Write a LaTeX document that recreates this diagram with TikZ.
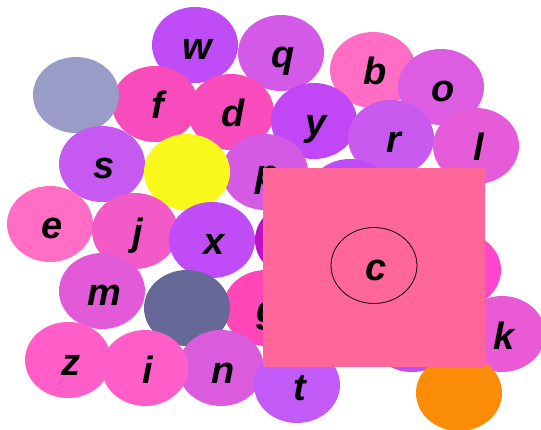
\documentclass[tikz,border=0pt]{standalone}
\usepackage{fontspec}
\setmainfont{Liberation Sans}
\usetikzlibrary{shapes.geometric}
\tikzset{
  blob/.style={ellipse, minimum width=86pt, minimum height=76pt, inner sep=0pt, draw=none},
  lbl/.style={font=\fontsize{38}{40}\selectfont\bfseries\itshape, anchor=base, inner sep=0pt, yshift=-15pt, xshift=2.5pt},
}
\newcommand{\blobat}[4]{%
  \node[blob, fill=#4] (#1) at (#2,#3) {};
}
\newcommand{\blobtxt}[5]{%
  \node[blob, fill=#4] (#1) at (#2,#3) {};
  \node[lbl] (#1t) at (#2,#3) {#5};
}
\definecolor{cw}{HTML}{C04CF8}
\definecolor{cq}{HTML}{D25AE6}
\definecolor{cb}{HTML}{FF6EC4}
\definecolor{co}{HTML}{DC5CE2}
\definecolor{cy}{HTML}{C046F6}
\definecolor{cr}{HTML}{C85AF0}
\definecolor{cl}{HTML}{E65CD8}
\definecolor{cgray}{HTML}{9A9CC8}
\definecolor{cf}{HTML}{F84CBC}
\definecolor{cs}{HTML}{C65AF0}
\definecolor{cyel}{HTML}{F8F81C}
\definecolor{cp}{HTML}{D45AE4}
\definecolor{ce}{HTML}{FF6EC4}
\definecolor{cj}{HTML}{F25AC8}
\definecolor{cmag}{HTML}{C010C8}
\definecolor{cm}{HTML}{E25AD8}
\definecolor{cdark}{HTML}{666898}
\definecolor{cg}{HTML}{FF46B8}
\definecolor{cz}{HTML}{FF5EC8}
\definecolor{cn}{HTML}{DA5CDC}
\definecolor{ct}{HTML}{C25AF8}
\definecolor{ck}{HTML}{EA5AD4}
\definecolor{cpk}{HTML}{FF46CC}
\definecolor{corange}{HTML}{FA8C08}
\definecolor{crect}{HTML}{FF6699}
\begin{document}
\begin{tikzpicture}[x=1pt,y=-1pt]
\useasboundingbox (0,0) rectangle (541,430);
\blobtxt{q}{281}{53}{cq}{q}
\blobtxt{w}{195}{45}{cw}{w}
\blobtxt{b}{373}{70}{cb}{b}
\blobtxt{o}{441}{87}{co}{o}
\blobtxt{f}{155}{104}{cf}{f}
\blobtxt{d}{231}{112}{cf}{d}
\blobat{gray}{76}{95}{cgray}
\blobtxt{y}{314}{121}{cy}{y}
\blobtxt{r}{391}{138}{cr}{r}
\blobtxt{l}{476}{146}{cl}{l}
\blobtxt{s}{102}{164}{cs}{s}
\blobtxt{p}{265}{172}{cp}{p}
\blobat{yel}{187}{172}{cyel}
\blobat{hid}{350}{197}{cw}
\blobtxt{e}{50}{224}{ce}{e}
\blobtxt{j}{135}{231}{cj}{j}
\blobat{mag}{298}{240}{cmag}
\blobtxt{x}{212}{240}{cw}{x}
\blobat{pk}{458}{270}{cpk}
\blobtxt{m}{102}{291}{cm}{m}
\blobtxt{g}{266}{308}{cg}{g}
\blobat{dark}{187}{308}{cdark}
\blobat{pu}{412}{334}{cw}
\blobtxt{k}{502}{334}{ck}{k}
\blobtxt{z}{68}{360}{cz}{z}
\blobtxt{n}{221}{368}{cn}{n}
\blobtxt{i}{145}{368}{cz}{i}
\blobtxt{t}{297}{385}{ct}{t}
\blobat{orange}{459}{393}{corange}
\node[fill=crect, draw=none, inner sep=0pt, minimum width=222pt, minimum height=199pt] (rect) at (374,267.5) {};
\node[blob, draw=black, line width=0.8pt, fill=none] (c) at (374,265.5) {};
\node[lbl] (ct) at (374,265.5) {c};
\end{tikzpicture}
\end{document}
